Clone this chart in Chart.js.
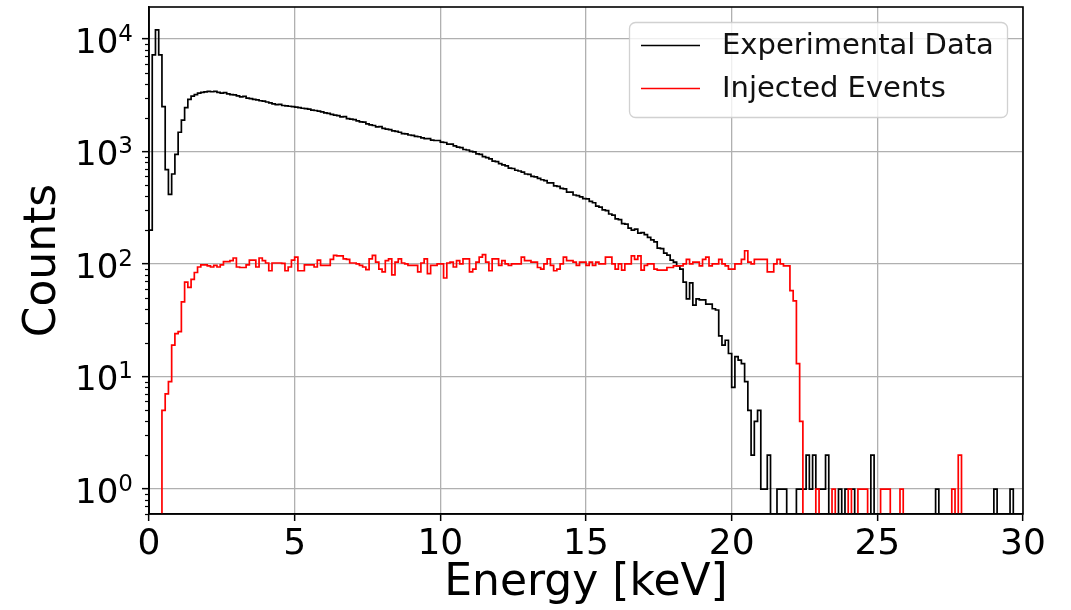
<!DOCTYPE html>
<html>
<head>
<meta charset="utf-8">
<script src="https://cdn.jsdelivr.net/npm/chart.js@4.4.1/dist/chart.umd.min.js"></script>
<style>
  html, body { margin: 0; padding: 0; background: #ffffff; overflow: hidden; }
  #wrap { width: 1071px; height: 610px; position: relative; }
</style>
</head>
<body>
<div id="wrap"><canvas id="c" width="1071" height="610"></canvas></div>
<script>
// ---------------- DATA ----------------
const BIN_WIDTH_KEV = 30 / 270;   // histogram bin width (keV)

// Experimental Data counts per bin (bin i starts at i * BIN_WIDTH_KEV)
const experimentalCounts = [
  200, 7200, 12000, 7200, 2500, 690, 415, 630, 940, 1480, 1900, 2450, 2900, 3100, 3200, 3300, 3350,
  3380, 3420, 3390, 3410, 3350, 3300, 3330, 3250, 3200, 3180, 3120,
  3050, 3080, 2980, 2950, 2900, 2870, 2820, 2800, 2750, 2700,
  2640, 2600, 2620, 2560, 2540, 2520, 2500,
  2480, 2450, 2420, 2400, 2380, 2330, 2310,
  2280, 2250, 2200, 2180, 2130, 2100, 2080,
  2030, 2040, 1960, 1940, 1920, 1870, 1830, 1820, 1760, 1720,
  1700, 1650, 1660, 1600, 1580, 1560, 1520, 1510, 1480, 1440,
  1430, 1400, 1390, 1360, 1350, 1320, 1300, 1300, 1260, 1250,
  1250, 1210, 1200, 1160, 1160, 1120, 1090, 1080, 1040, 1030, 1000,
  990, 950, 940, 900, 880, 860, 820, 810, 780, 760, 745, 710,
  705, 680, 670, 655, 630, 625, 600, 595, 575, 560, 550,
  525, 525, 495, 490, 470, 465, 435, 435, 410, 405, 395, 380,
  378, 360, 350, 326, 320, 302, 298, 278,
  272, 252, 248, 228, 226, 208, 200, 204, 188, 190,
  182, 172, 164, 157, 138, 137, 125, 120, 108, 104, 96,
  90, 69, 49, 68, 43, 49, 48, 48, 44, 44,
  40, 39, 23, 19, 21, 16, 8, 15, 14, 13,
  9, 5, 2, 4, 5, 1, 1, 2, 0, 0,
  1, 1, 1, 0, 0, 0,
  1, 1, 1, 2, 1, 2, 1, 1, 1, 2,
  0, 0, 0, 1, 0, 1, 1, 1, 0, 0,
  0, 0, 0, 2, 0, 0, 0, 0, 0, 0,
  0, 0, 0, 0, 0, 0, 0, 0, 0, 0,
  0, 0, 0, 1, 0, 0, 0, 0, 0, 0,
  0, 0, 0, 0, 0, 0, 0, 0, 0, 0,
  0, 1, 0, 0, 0, 0, 1, 0, 0, 0
];

// Injected Events counts per bin
const injectedCounts = [
  0, 0, 0, 0,
  5, 7, 9, 19, 24, 25, 46, 69, 62, 73, 84,
  94, 98, 98, 96, 94, 97, 94, 98, 105, 105,
  107, 113, 94, 93, 93, 98, 108, 108, 94, 113,
  107, 102, 87, 102, 102, 102, 101, 87, 94, 108,
  115, 87, 87, 98, 98, 98, 94, 108, 97, 97, 97,
  110, 119, 118, 118, 111, 110, 102, 102, 100, 97,
  94, 89, 111, 119, 104, 90, 85, 107, 111, 80,
  104, 111, 102, 100, 97, 97, 97, 85, 102, 111,
  82, 97, 97, 100, 100, 75, 102, 104, 94, 107,
  100, 111, 111, 85, 90, 104, 115, 121, 104, 87,
  111, 111, 97, 107, 100, 97, 100, 100, 100, 115,
  107, 107, 104, 104, 93, 90, 100, 111, 97, 87,
  90, 100, 115, 107, 107, 104, 97, 104, 104, 97,
  104, 97, 104,
  100, 100, 115, 115, 100, 90, 100, 88, 100, 100,
  118, 110, 118, 88, 97, 100, 100, 90, 88, 88,
  88, 93, 93, 96, 96, 96, 100, 110, 100, 104,
  104, 96, 110, 115, 96, 100, 100, 110, 100, 96,
  90, 90, 100, 100, 110, 131, 104, 100, 110, 110,
  110, 110, 85, 85, 100, 110, 100, 96, 96,
  58, 47, 13, 4,
  0, 0, 0, 0, 1, 0, 0, 0, 0, 1,
  0, 0, 0, 0, 1, 0, 0, 1, 1, 1,
  0, 0, 0, 0, 1, 1, 1, 0, 0, 0,
  1, 0, 0, 0, 0, 0, 0, 0, 0, 0,
  0, 0, 0, 0, 0, 0, 1, 0, 2, 0,
  0, 0, 0, 0, 0, 0, 0, 0, 0, 0,
  0, 0, 0, 0, 0, 0, 0, 0
];

const seriesLabels = ['Experimental Data', 'Injected Events'];
const seriesColors = ['#000000', '#ff0000'];
const xTickValues = [0, 5, 10, 15, 20, 25, 30];
const xTickLabels = ['0', '5', '10', '15', '20', '25', '30'];
const yTickValues = [1, 10, 100, 1000, 10000];
const yTickBases = ['10', '10', '10', '10', '10'];
const yTickExponents = ['0', '1', '2', '3', '4'];
const xAxisTitle = 'Energy [keV]';
const yAxisTitle = 'Counts';

// ---------------- BUILD ----------------
const FLOOR = 0.05; // zero-count bins drop below the visible range (clipped)
function histPoints(counts) {
  const pts = [{ x: 0, y: FLOOR }];
  counts.forEach((c, i) => pts.push({ x: i * BIN_WIDTH_KEV, y: c > 0 ? c : FLOOR }));
  pts.push({ x: counts.length * BIN_WIDTH_KEV, y: FLOOR });
  return pts;
}

const FONT = '"DejaVu Sans", "Liberation Sans", sans-serif';
Chart.defaults.font.family = FONT;
Chart.defaults.color = '#000';

const frameAndMinorTicks = {
  id: 'frameAndMinorTicks',
  afterDatasetsDraw(chart) {
    const { ctx, chartArea: a } = chart;
    const ys = chart.scales.y;
    ctx.save();
    ctx.strokeStyle = '#000';
    ctx.lineWidth = 1.2;
    const lo = Math.floor(Math.log10(ys.min)), hi = Math.ceil(Math.log10(ys.max));
    for (let d = lo; d <= hi; d++) {
      for (let m = 2; m <= 9; m++) {
        const v = m * Math.pow(10, d);
        if (v < ys.min || v > ys.max) continue;
        const py = Math.round(ys.getPixelForValue(v)) + 0.5;
        ctx.beginPath();
        ctx.moveTo(a.left - 4, py);
        ctx.lineTo(a.left, py);
        ctx.stroke();
      }
    }
    ctx.lineWidth = 1.6;
    ctx.strokeRect(a.left, a.top, a.right - a.left, a.bottom - a.top);

    // y tick labels as 10 with raised exponent (mathtext style)
    ctx.fillStyle = '#000';
    ctx.textBaseline = 'alphabetic';
    ctx.textAlign = 'left';
    const rightEdge = a.left - 16;
    yTickValues.forEach((v, i) => {
      const ty = ys.getPixelForValue(v);
      ctx.font = '23px ' + FONT;
      const supW = ctx.measureText(yTickExponents[i]).width;
      ctx.font = '34px ' + FONT;
      const baseW = ctx.measureText(yTickBases[i]).width;
      const baseX = rightEdge - supW - baseW;
      const baseline = ty + 14;
      ctx.fillText(yTickBases[i], baseX, baseline);
      ctx.font = '23px ' + FONT;
      ctx.fillText(yTickExponents[i], baseX + baseW, baseline - 12);
    });
    ctx.restore();
  }
};

const legendBox = {
  id: 'legendBox',
  afterDraw(chart) {
    const ctx = chart.ctx;
    ctx.save();
    ctx.beginPath();
    ctx.roundRect(629.5, 22.5, 378, 95, 6);
    ctx.fillStyle = 'rgba(255,255,255,0.8)';
    ctx.fill();
    ctx.strokeStyle = 'rgba(204,204,204,0.9)';
    ctx.lineWidth = 1.3;
    ctx.stroke();
    const dsSorted = chart.data.datasets.slice().sort((p, q) => p.legendIndex - q.legendIndex);
    dsSorted.forEach((ds, i) => {
      const y = 45.5 + i * 43;
      ctx.strokeStyle = ds.borderColor;
      ctx.lineWidth = 1.6;
      ctx.beginPath();
      ctx.moveTo(641, y);
      ctx.lineTo(700, y);
      ctx.stroke();
      ctx.fillStyle = '#111';
      ctx.font = '29px ' + FONT;
      ctx.textBaseline = 'middle';
      ctx.textAlign = 'left';
      ctx.fillText(ds.label, 722, y + 1);
    });
    ctx.restore();
  }
};

const gridOpts = {
  color: '#b0b0b0',
  lineWidth: 1.3,
  drawTicks: true,
  tickLength: 7,
  tickColor: '#000',
  tickWidth: 1.5
};

new Chart(document.getElementById('c'), {
  type: 'line',
  data: {
    datasets: [
      {
        label: seriesLabels[0],
        legendIndex: 0,
        data: histPoints(experimentalCounts),
        borderColor: seriesColors[0],
        borderWidth: 1.7,
        stepped: 'before',
        pointRadius: 0,
        fill: false,
        tension: 0,
        order: 2
      },
      {
        label: seriesLabels[1],
        legendIndex: 1,
        data: histPoints(injectedCounts),
        borderColor: seriesColors[1],
        borderWidth: 1.7,
        stepped: 'before',
        pointRadius: 0,
        fill: false,
        tension: 0,
        order: 1
      }
    ]
  },
  options: {
    responsive: false,
    animation: false,
    devicePixelRatio: 1,
    layout: { padding: { top: 7, right: 48, left: 0, bottom: 0 } },
    plugins: { legend: { display: false }, tooltip: { enabled: false } },
    scales: {
      x: {
        type: 'linear',
        min: 0,
        max: 30,
        afterBuildTicks: s => { s.ticks = xTickValues.map(v => ({ value: v })); },
        afterFit: s => { s.height = 96; s.paddingLeft = 0; s.paddingRight = 0; },
        ticks: {
          autoSkip: false,
          maxRotation: 0,
          padding: 2,
          font: { size: 36 },
          color: '#000',
          callback: v => xTickLabels[xTickValues.indexOf(v)]
        },
        grid: gridOpts,
        border: { display: true, color: '#000', width: 1.6 },
        title: {
          display: true,
          text: xAxisTitle,
          font: { size: 44 },
          color: '#000',
          padding: { top: 0, bottom: 0 }
        }
      },
      y: {
        type: 'logarithmic',
        min: 0.625,
        max: 19200,
        afterBuildTicks: s => { s.ticks = yTickValues.map(v => ({ value: v })); },
        afterFit: s => { s.width = 149; s.paddingTop = 0; s.paddingBottom = 0; },
        ticks: {
          autoSkip: false,
          display: false
        },
        grid: gridOpts,
        border: { display: true, color: '#000', width: 1.6 },
        title: {
          display: true,
          text: yAxisTitle,
          font: { size: 44 },
          color: '#000',
          padding: { top: 17, bottom: 0 }
        }
      }
    }
  },
  plugins: [frameAndMinorTicks, legendBox]
});
</script>
</body>
</html>
